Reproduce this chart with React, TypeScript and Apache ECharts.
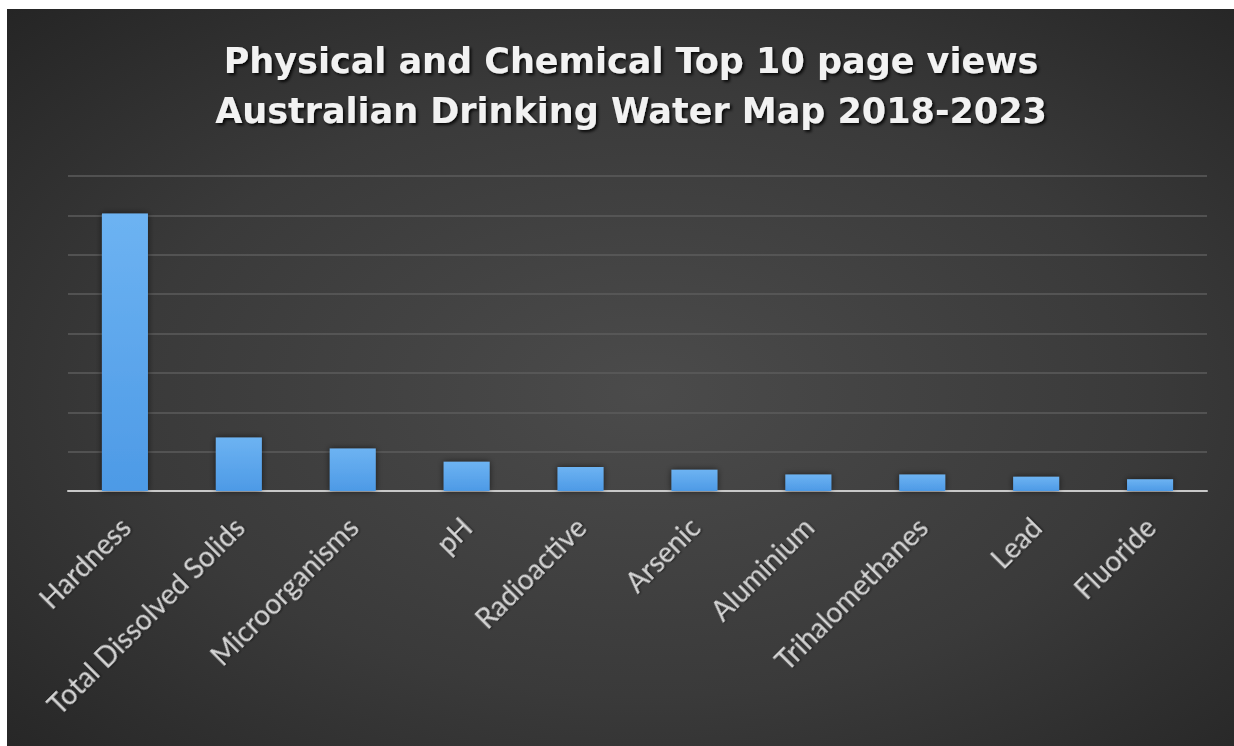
import React, { useEffect, useRef } from "react";
import * as echarts from "echarts";

const categories = [
  "Hardness",
  "Total Dissolved Solids",
  "Microorganisms",
  "pH",
  "Radioactive",
  "Arsenic",
  "Aluminium",
  "Trihalomethanes",
  "Lead",
  "Fluoride",
];
const pageViews = [7050, 1360, 1080, 740, 610, 540, 420, 420, 360, 300];
const titleLines = [
  "Physical and Chemical Top 10 page views",
  "Australian Drinking Water Map 2018-2023",
];

export default function App() {
  const ref = useRef<HTMLDivElement>(null);
  useEffect(() => {
    if (!ref.current) return;
    const chart = echarts.init(ref.current, undefined, { renderer: "svg" });
    chart.setOption({
      animation: false,
      backgroundColor: "#ffffff",
      graphic: {
        elements: [
          {
            type: "rect",
            z: -10,
            silent: true,
            shape: { x: 7, y: 9, width: 1227, height: 737 },
            style: {
              fill: new echarts.graphic.RadialGradient(0.52, 0.52, 0.75, [
                { offset: 0, color: "#4b4b4b" },
                { offset: 0.55, color: "#3a3a3a" },
                { offset: 1, color: "#242424" },
              ]),
            },
          },
        ],
      },
      title: {
        text: titleLines.join("\n"),
        left: 626,
        top: 31,
        textAlign: "center",
        textStyle: {
          color: "#f2f2f2",
          fontFamily: "DejaVu Sans",
          fontWeight: "bold",
          fontSize: 35,
          lineHeight: 50,
          textShadowColor: "rgba(0,0,0,0.85)",
          textShadowBlur: 3,
          textShadowOffsetX: 2,
          textShadowOffsetY: 2,
        },
      },
      grid: { left: 68, right: 27, top: 176, bottom: 255, containLabel: false },
      xAxis: {
        type: "category",
        data: categories,
        axisTick: { show: false },
        axisLine: { lineStyle: { color: "#c8c8c8", width: 2 } },
        axisLabel: {
          rotate: 45,
          margin: 31,
          interval: 0,
          color: "#d4d4d4",
          fontFamily: "Lato",
          fontSize: 28,
          textShadowColor: "rgba(0,0,0,0.6)",
          textShadowBlur: 2,
          textShadowOffsetX: 1,
          textShadowOffsetY: 1,
        },
      },
      yAxis: {
        type: "value",
        min: 0,
        max: 8000,
        interval: 1000,
        axisLabel: { show: false },
        axisLine: { show: false },
        axisTick: { show: false },
        splitLine: { lineStyle: { color: "#5c5c5c", width: 1.5 } },
      },
      series: [
        {
          type: "bar",
          data: pageViews,
          barWidth: 46,
          itemStyle: {
            color: new echarts.graphic.LinearGradient(0, 0, 0, 1, [
              { offset: 0, color: "#6db3f2" },
              { offset: 1, color: "#4d9ae6" },
            ]),
            shadowColor: "rgba(0,0,0,0.6)",
            shadowBlur: 6,
          },
        },
      ],
    });
    return () => chart.dispose();
  }, []);
  return (
    <div
      ref={ref}
      style={{ position: "absolute", left: 0, top: 0, width: 1234, height: 746 }}
    />
  );
}
